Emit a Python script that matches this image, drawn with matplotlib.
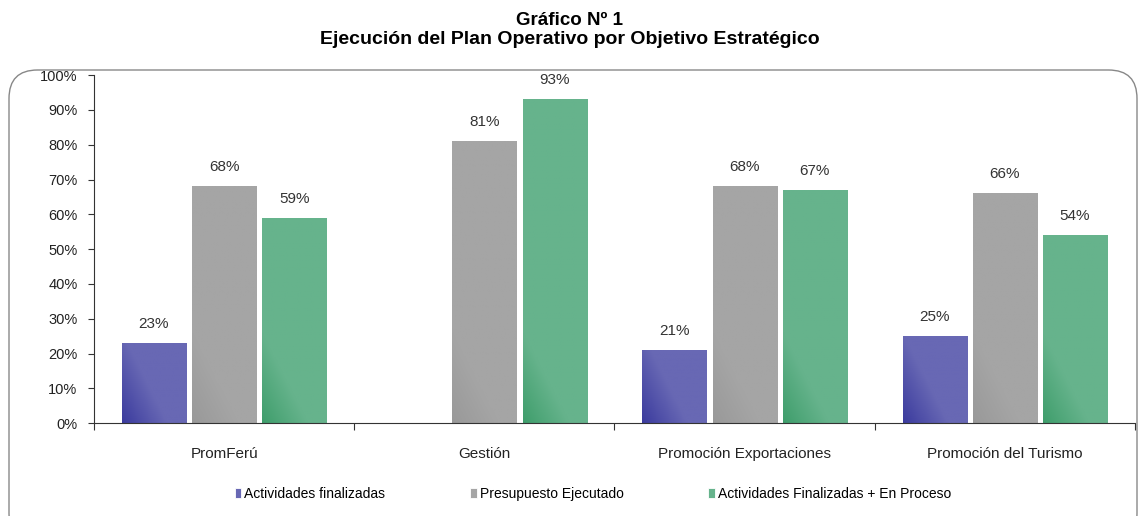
import numpy as np
import matplotlib.pyplot as plt
from matplotlib.patches import FancyBboxPatch
from matplotlib.colors import LinearSegmentedColormap
from matplotlib.ticker import PercentFormatter

categories = ['PromFerú', 'Gestión', 'Promoción Exportaciones', 'Promoción del Turismo']
series_names = ['Actividades finalizadas', 'Presupuesto Ejecutado',
                'Actividades Finalizadas + En Proceso']
act_finalizadas = [23, None, 21, 25]
presupuesto = [68, 81, 68, 66]
act_proceso = [59, 93, 67, 54]

colors = ['#6868b4', '#a5a5a5', '#66b38c']
dark = ['#33339a', '#979797', '#389a66']

plt.rcParams['font.family'] = ['Liberation Sans', 'DejaVu Sans']

fig = plt.figure(figsize=(11.4, 5.16), dpi=100)
ax = fig.add_axes([0.0825, 0.180, 0.913, 0.6744])

x = np.arange(len(categories))
width = 0.246
step = 0.27
for i, (vals, c, dc, name) in enumerate(zip([act_finalizadas, presupuesto, act_proceso],
                                        colors, dark, series_names)):
    pos = x + (i - 1) * step
    h = [v / 100 if v is not None else 0 for v in vals]
    bars = ax.bar(pos, h, width, color=c, edgecolor='white', linewidth=0.6, label=name)
    cm = LinearSegmentedColormap.from_list('g' + str(i), [dc, c])
    for b, v in zip(bars, vals):
        if v is None:
            continue
        # diagonal shading, darker towards the bottom-left corner
        x0, hh = b.get_x(), b.get_height()
        xs = np.linspace(0, 1, 60)[None, :]
        ys = np.linspace(0, hh, 120)[:, None]
        t = np.clip(0.15 + xs * 1.2 + ys / 0.3, 0, 1)
        im = ax.imshow(t, cmap=cm, vmin=0, vmax=1,
                       extent=[x0, x0 + b.get_width(), 0, hh],
                       aspect='auto', origin='lower', zorder=2)
        im.set_clip_path(b)
        ax.text(b.get_x() + b.get_width() / 2, hh + 0.035, f'{v}%',
                ha='center', va='bottom', fontsize=11, color='#333333')

ax.set_xlim(-0.5, len(categories) - 0.5)
ax.set_ylim(0, 1)
ax.set_yticks(np.arange(0, 1.01, 0.1))
ax.yaxis.set_major_formatter(PercentFormatter(1.0, decimals=0))
ax.set_xticks(np.arange(len(categories) + 1) - 0.5)
ax.set_xticklabels([])
ax.set_xticks(x, minor=True)
ax.set_xticklabels(categories, minor=True)
ax.tick_params(axis='x', which='minor', length=0, pad=17.5, labelsize=11, labelcolor='#222222')
ax.tick_params(axis='x', which='major', length=5, direction='out', color='#333333')
ax.tick_params(axis='y', length=4.5, direction='out', labelsize=10.5, labelcolor='#222222',
               pad=7.5, color='#333333')
for s in ['top', 'right']:
    ax.spines[s].set_visible(False)
ax.spines['left'].set_color('#333333')
ax.spines['bottom'].set_color('#333333')

fig.legend(loc='center left', bbox_to_anchor=(222 / 1140, 0.043), ncol=3, frameon=False,
           handlelength=0.5, handleheight=0.7, handletextpad=0.2, columnspacing=6.1,
           prop={'size': 10})

fig.text(0.5, 0.96, 'Gráfico Nº 1', ha='center', va='center', fontsize=13.5, fontweight='bold')
fig.text(0.5, 0.923, 'Ejecución del Plan Operativo por Objetivo Estratégico',
         ha='center', va='center', fontsize=14, fontweight='bold')

frame = FancyBboxPatch((9 / 1140, -0.05), 1128 / 1140, (516 - 70) / 516 + 0.05,
                       boxstyle='round,pad=0,rounding_size=0.025', transform=fig.transFigure,
                       facecolor='none', edgecolor='#888888', linewidth=1.0,
                       mutation_aspect=1140 / 516)
fig.patches.append(frame)

fig.savefig('out.png', dpi=100)
